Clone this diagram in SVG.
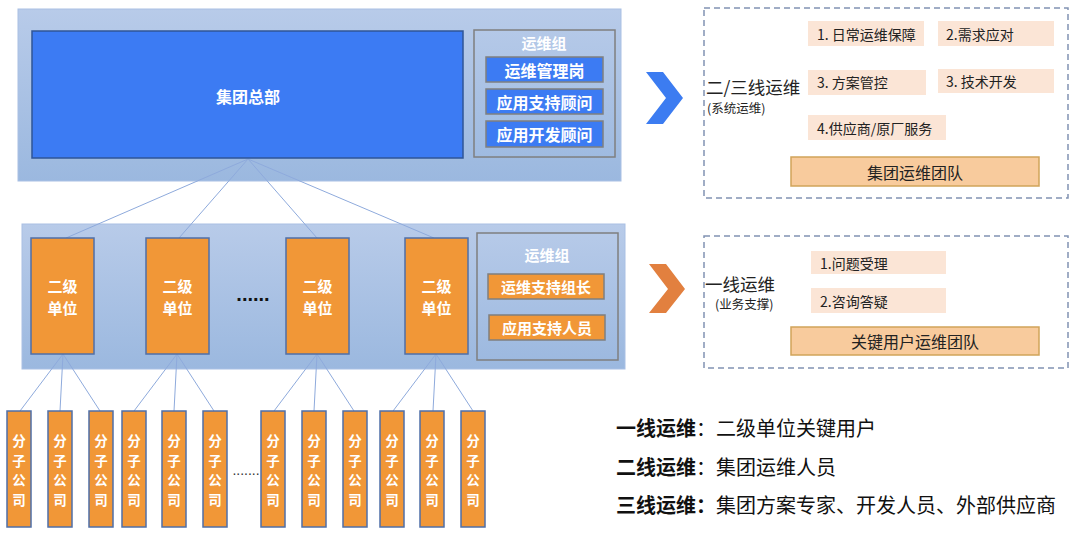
<svg xmlns="http://www.w3.org/2000/svg" width="1080" height="533" viewBox="0 0 1080 533">
<defs>
<linearGradient id="panel" x1="0" y1="0" x2="0" y2="1">
<stop offset="0" stop-color="#b8cbe9"/>
<stop offset="1" stop-color="#9bb8df"/>
</linearGradient>
<style>
.cjk{font-family:"Noto Sans CJK SC","Noto Sans",sans-serif}
.wb{fill:#ffffff;font-weight:bold;text-anchor:middle;dominant-baseline:central}
.panel{fill:url(#panel);stroke:#a9c0e4;stroke-width:1}
.bluebox{fill:#3c7bf3;stroke:#2f5597;stroke-width:1.5}
.bluesub{fill:#3c7bf3;stroke:#7f7f7f;stroke-width:1.5}
.grp{fill:none;stroke:#7f7f7f;stroke-width:1.5}
.org{fill:#f19737;stroke:#4f6fa8;stroke-width:1.5}
.orgsub{fill:#f19737;stroke:#7f7f7f;stroke-width:1.5}
.conn line{stroke:#8eaadc;stroke-width:1}
.dash{fill:none;stroke:#8193b3;stroke-width:1.5;stroke-dasharray:6 4}
.peach{fill:#fbe5d6}
.team{fill:#f8cb9d;stroke:#d1a45a;stroke-width:1.5}
.dk{fill:#222222;dominant-baseline:central}
.leg{fill:#111111;font-size:20px}
.sc{font-size:13.5px}
</style>
</defs>

<!-- panels -->
<g id="panel-top">
<rect class="panel" x="18" y="9" width="603" height="172"/>
</g>
<g id="panel-mid">
<rect class="panel" x="22" y="224" width="603" height="145"/>
</g>

<!-- connectors -->
<g class="conn" id="connectors">
<line x1="248" y1="159" x2="66" y2="238"/>
<line x1="248" y1="159" x2="179" y2="238"/>
<line x1="248" y1="159" x2="317" y2="238"/>
<line x1="248" y1="159" x2="434" y2="238"/>
<line x1="63" y1="354" x2="20" y2="411"/>
<line x1="63" y1="354" x2="60" y2="411"/>
<line x1="63" y1="354" x2="100" y2="411"/>
<line x1="177" y1="354" x2="134" y2="411"/>
<line x1="177" y1="354" x2="174" y2="411"/>
<line x1="177" y1="354" x2="214" y2="411"/>
<line x1="317" y1="354" x2="274" y2="411"/>
<line x1="317" y1="354" x2="314" y2="411"/>
<line x1="317" y1="354" x2="354" y2="411"/>
<line x1="436" y1="354" x2="393" y2="411"/>
<line x1="436" y1="354" x2="433" y2="411"/>
<line x1="436" y1="354" x2="473" y2="411"/>
</g>

<!-- HQ -->
<g id="hq">
<rect class="bluebox" x="32" y="31" width="431" height="127"/>
<text class="cjk wb" x="248" y="96" font-size="16">集团总部</text>
</g>
<g id="hq-ops">
<rect class="grp" x="474" y="30" width="141" height="127"/>
<text class="cjk wb" x="544" y="42" font-size="15" fill="#f2f2f2">运维组</text>
<rect class="bluesub" x="486" y="57" width="117" height="25"/>
<text class="cjk wb" x="544.5" y="69.5" font-size="16">运维管理岗</text>
<rect class="bluesub" x="486" y="89" width="117" height="25"/>
<text class="cjk wb" x="544.5" y="101.5" font-size="16">应用支持顾问</text>
<rect class="bluesub" x="486" y="121" width="117" height="26"/>
<text class="cjk wb" x="544.5" y="134" font-size="16">应用开发顾问</text>
</g>

<!-- second level units -->
<g id="unit1">
<rect class="org" x="31" y="238" width="63" height="116"/>
<text class="cjk wb" x="62.5" y="285.5" font-size="15">二级</text>
<text class="cjk wb" x="62.5" y="307.5" font-size="15">单位</text>
</g>
<g id="unit2">
<rect class="org" x="146" y="238" width="63" height="116"/>
<text class="cjk wb" x="177.5" y="285.5" font-size="15">二级</text>
<text class="cjk wb" x="177.5" y="307.5" font-size="15">单位</text>
</g>
<g id="unit3">
<rect class="org" x="286" y="238" width="63" height="116"/>
<text class="cjk wb" x="317.5" y="285.5" font-size="15">二级</text>
<text class="cjk wb" x="317.5" y="307.5" font-size="15">单位</text>
</g>
<g id="unit4">
<rect class="org" x="405" y="238" width="63" height="116"/>
<text class="cjk wb" x="436.5" y="285.5" font-size="15">二级</text>
<text class="cjk wb" x="436.5" y="307.5" font-size="15">单位</text>
</g>
<text id="dots-mid" x="253" y="301" font-size="20" font-weight="bold" fill="#111" text-anchor="middle" font-family="Liberation Sans, sans-serif">......</text>

<g id="unit-ops">
<rect class="grp" x="477" y="233" width="141" height="127"/>
<text class="cjk wb" x="547" y="254" font-size="15" fill="#f2f2f2">运维组</text>
<rect class="orgsub" x="488" y="274" width="116" height="25"/>
<text class="cjk wb" x="546" y="286.5" font-size="15">运维支持组长</text>
<rect class="orgsub" x="489" y="315" width="116" height="25"/>
<text class="cjk wb" x="547" y="327.5" font-size="15">应用支持人员</text>
</g>

<!-- subsidiaries -->
<g id="sub1"><rect class="org" x="7" y="411" width="24" height="116"/><text class="cjk wb sc" x="19"><tspan x="19" y="440">分</tspan><tspan x="19" y="459.5">子</tspan><tspan x="19" y="479">公</tspan><tspan x="19" y="498.5">司</tspan></text></g>
<g id="sub2"><rect class="org" x="48" y="411" width="24" height="116"/><text class="cjk wb sc" x="60"><tspan x="60" y="440">分</tspan><tspan x="60" y="459.5">子</tspan><tspan x="60" y="479">公</tspan><tspan x="60" y="498.5">司</tspan></text></g>
<g id="sub3"><rect class="org" x="89" y="411" width="24" height="116"/><text class="cjk wb sc" x="101"><tspan x="101" y="440">分</tspan><tspan x="101" y="459.5">子</tspan><tspan x="101" y="479">公</tspan><tspan x="101" y="498.5">司</tspan></text></g>
<g id="sub4"><rect class="org" x="122" y="411" width="24" height="116"/><text class="cjk wb sc" x="134"><tspan x="134" y="440">分</tspan><tspan x="134" y="459.5">子</tspan><tspan x="134" y="479">公</tspan><tspan x="134" y="498.5">司</tspan></text></g>
<g id="sub5"><rect class="org" x="162" y="411" width="24" height="116"/><text class="cjk wb sc" x="174"><tspan x="174" y="440">分</tspan><tspan x="174" y="459.5">子</tspan><tspan x="174" y="479">公</tspan><tspan x="174" y="498.5">司</tspan></text></g>
<g id="sub6"><rect class="org" x="203" y="411" width="24" height="116"/><text class="cjk wb sc" x="215"><tspan x="215" y="440">分</tspan><tspan x="215" y="459.5">子</tspan><tspan x="215" y="479">公</tspan><tspan x="215" y="498.5">司</tspan></text></g>
<g id="sub7"><rect class="org" x="261" y="411" width="24" height="116"/><text class="cjk wb sc" x="273"><tspan x="273" y="440">分</tspan><tspan x="273" y="459.5">子</tspan><tspan x="273" y="479">公</tspan><tspan x="273" y="498.5">司</tspan></text></g>
<g id="sub8"><rect class="org" x="302" y="411" width="24" height="116"/><text class="cjk wb sc" x="314"><tspan x="314" y="440">分</tspan><tspan x="314" y="459.5">子</tspan><tspan x="314" y="479">公</tspan><tspan x="314" y="498.5">司</tspan></text></g>
<g id="sub9"><rect class="org" x="343" y="411" width="24" height="116"/><text class="cjk wb sc" x="355"><tspan x="355" y="440">分</tspan><tspan x="355" y="459.5">子</tspan><tspan x="355" y="479">公</tspan><tspan x="355" y="498.5">司</tspan></text></g>
<g id="sub10"><rect class="org" x="380" y="411" width="24" height="116"/><text class="cjk wb sc" x="392"><tspan x="392" y="440">分</tspan><tspan x="392" y="459.5">子</tspan><tspan x="392" y="479">公</tspan><tspan x="392" y="498.5">司</tspan></text></g>
<g id="sub11"><rect class="org" x="420" y="411" width="24" height="116"/><text class="cjk wb sc" x="432"><tspan x="432" y="440">分</tspan><tspan x="432" y="459.5">子</tspan><tspan x="432" y="479">公</tspan><tspan x="432" y="498.5">司</tspan></text></g>
<g id="sub12"><rect class="org" x="461" y="411" width="24" height="116"/><text class="cjk wb sc" x="473"><tspan x="473" y="440">分</tspan><tspan x="473" y="459.5">子</tspan><tspan x="473" y="479">公</tspan><tspan x="473" y="498.5">司</tspan></text></g>
<text id="dots-bottom" x="246" y="475" font-size="14" fill="#333" text-anchor="middle" font-family="Liberation Sans, sans-serif">.......</text>

<!-- chevrons -->
<polygon id="chev-blue" points="646,72 663,72 683,98 663,124 646,124 666,98" fill="#3c7cf1"/>
<polygon id="chev-orange" points="649,264 666,264 685,289 666,313 649,313 668,289" fill="#e2803f"/>

<!-- second/third line panel -->
<g id="l23">
<rect class="dash" x="704" y="8" width="364" height="190"/>
<text class="cjk dk" x="706" y="86" font-size="17.5">二/三线运维</text>
<text class="cjk dk" x="707" y="107.5" font-size="12.5">(系统运维)</text>
<rect class="peach" x="808" y="21" width="116" height="25"/>
<text class="cjk dk" x="817" y="33.5" font-size="14">1. 日常运维保障</text>
<rect class="peach" x="938" y="21" width="116" height="25"/>
<text class="cjk dk" x="946" y="33.5" font-size="14">2.需求应对</text>
<rect class="peach" x="808" y="70" width="118" height="25"/>
<text class="cjk dk" x="817" y="82" font-size="14">3. 方案管控</text>
<rect class="peach" x="938" y="69" width="116" height="24"/>
<text class="cjk dk" x="946" y="80.5" font-size="14">3. 技术开发</text>
<rect class="peach" x="808" y="115" width="138" height="25"/>
<text class="cjk dk" x="817" y="127.5" font-size="14">4.供应商/原厂服务</text>
<rect class="team" x="791" y="157" width="248" height="29"/>
<text class="cjk dk" x="915" y="171.5" font-size="16" text-anchor="middle">集团运维团队</text>
</g>

<!-- first line panel -->
<g id="l1">
<rect class="dash" x="704" y="236" width="364" height="132"/>
<text class="cjk dk" x="705" y="283" font-size="17.5">一线运维</text>
<text class="cjk dk" x="715" y="303.5" font-size="12.5">(业务支撑)</text>
<rect class="peach" x="811" y="251" width="135" height="23"/>
<text class="cjk dk" x="820" y="262.5" font-size="14">1.问题受理</text>
<rect class="peach" x="811" y="288" width="135" height="25"/>
<text class="cjk dk" x="820" y="300.5" font-size="14">2.咨询答疑</text>
<rect class="team" x="791" y="327" width="248" height="28"/>
<text class="cjk dk" x="915" y="341" font-size="16" text-anchor="middle">关键用户运维团队</text>
</g>

<!-- legend -->
<g id="legend" class="cjk leg">
<text x="616" y="427" dominant-baseline="central"><tspan font-weight="bold">一线运维</tspan>：二级单位关键用户</text>
<text x="616" y="466" dominant-baseline="central"><tspan font-weight="bold">二线运维</tspan>：集团运维人员</text>
<text x="616" y="504" dominant-baseline="central"><tspan font-weight="bold">三线运维：</tspan>集团方案专家、开发人员、外部供应商</text>
</g>
</svg>
